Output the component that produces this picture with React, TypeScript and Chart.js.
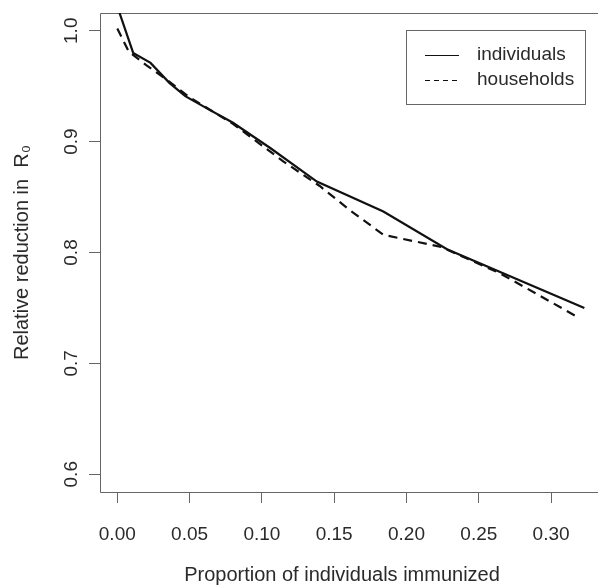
import React, { useEffect, useRef } from "react";
import { Chart, registerables } from "chart.js";

Chart.register(...registerables);

// ---- data ----
const individualsX = [0, 0.011, 0.023, 0.036, 0.047, 0.062, 0.08, 0.106, 0.138, 0.184, 0.228, 0.323];
const individualsY = [1.022, 0.98, 0.971, 0.953, 0.941, 0.93, 0.917, 0.894, 0.864, 0.837, 0.803, 0.75];

const householdsX = [0, 0.008, 0.02, 0.035, 0.05, 0.08, 0.115, 0.14, 0.161, 0.184, 0.224, 0.265, 0.318];
const householdsY = [1.002, 0.981, 0.969, 0.955, 0.94, 0.916, 0.882, 0.86, 0.838, 0.816, 0.805, 0.781, 0.742];

const seriesLabels = ["individuals", "households"];
const xTickValues = [0, 0.05, 0.1, 0.15, 0.2, 0.25, 0.3];
const yTickValues = [0.6, 0.7, 0.8, 0.9, 1.0];
const xTitle = "Proportion of individuals immunized";
const yTitle = "Relative reduction in  R\u2080";

const FONT = '"Liberation Sans", Arial, Helvetica, sans-serif';
const TEXT = "#2a2a2a";
const FRAME = "#666";
const LINE = "#111";

const toPoints = (xs: number[], ys: number[]) => xs.map((x, i) => ({ x, y: ys[i] }));

const decorPlugin = {
  id: "rDecor",
  beforeDatasetsDraw(chart: any) {
    const { ctx, chartArea } = chart;
    ctx.save();
    ctx.strokeStyle = FRAME;
    ctx.lineWidth = 1;
    ctx.beginPath();
    ctx.moveTo(chart.width, Math.round(chartArea.top) + 0.5);
    ctx.lineTo(Math.round(chartArea.left) + 0.5, Math.round(chartArea.top) + 0.5);
    ctx.lineTo(Math.round(chartArea.left) + 0.5, Math.round(chartArea.bottom) + 0.5);
    ctx.lineTo(chart.width, Math.round(chartArea.bottom) + 0.5);
    ctx.stroke();
    ctx.restore();
  },
  afterDraw(chart: any) {
    const { ctx } = chart;
    const ys = chart.scales.y;
    // rotated y tick labels (R style)
    ctx.save();
    ctx.fillStyle = TEXT;
    ctx.font = `19px ${FONT}`;
    ys.ticks.forEach((t: any) => {
      const py = ys.getPixelForValue(t.value);
      ctx.save();
      ctx.translate(72, py);
      ctx.rotate(-Math.PI / 2);
      ctx.textAlign = "center";
      ctx.textBaseline = "middle";
      ctx.fillText(Number(t.value).toFixed(1), 0, 0);
      ctx.restore();
    });
    ctx.restore();

    // legend box
    const lx = 406, ly = 30, lw = 179, lh = 74;
    ctx.save();
    ctx.strokeStyle = FRAME;
    ctx.lineWidth = 1;
    ctx.strokeRect(lx + 0.5, ly + 0.5, lw, lh);
    ctx.font = `19px ${FONT}`;
    ctx.fillStyle = TEXT;
    ctx.textBaseline = "middle";
    ctx.textAlign = "left";
    chart.data.datasets.forEach((ds: any, i: number) => {
      const cy = ly + 25 + i * 25;
      ctx.save();
      ctx.strokeStyle = LINE;
      ctx.lineWidth = 1.2;
      ctx.setLineDash(ds.borderDash && ds.borderDash.length ? [5, 4] : []);
      ctx.beginPath();
      ctx.moveTo(425, cy + 0.5);
      ctx.lineTo(459, cy + 0.5);
      ctx.stroke();
      ctx.restore();
      ctx.fillText(ds.label, 477, cy);
    });
    ctx.restore();
  },
};

export default function App() {
  const canvasRef = useRef<HTMLCanvasElement | null>(null);

  useEffect(() => {
    if (!canvasRef.current) return;
    const chart = new Chart(canvasRef.current, {
      type: "line",
      data: {
        datasets: [
          {
            label: seriesLabels[0],
            data: toPoints(individualsX, individualsY),
            borderColor: LINE,
            borderWidth: 2.2,
            pointRadius: 0,
            tension: 0,
            fill: false,
            clip: { left: 0, top: 0, right: 20, bottom: 0 } as any,
          },
          {
            label: seriesLabels[1],
            data: toPoints(householdsX, householdsY),
            borderColor: LINE,
            borderWidth: 2.2,
            borderDash: [9, 6],
            pointRadius: 0,
            tension: 0,
            fill: false,
            clip: { left: 0, top: 0, right: 20, bottom: 0 } as any,
          },
        ],
      },
      options: {
        responsive: false,
        animation: false,
        devicePixelRatio: 1,
        layout: { padding: { left: 0, top: 13, right: 14, bottom: 0 } },
        plugins: {
          legend: { display: false },
          tooltip: { enabled: false },
          title: { display: false },
        },
        scales: {
          x: {
            type: "linear",
            min: -0.01196,
            max: 0.32275,
            afterBuildTicks: (s: any) => {
              s.ticks = xTickValues.map((v) => ({ value: v }));
            },
            afterFit: (s: any) => {
              s.height = 95;
            },
            border: { display: false },
            grid: {
              drawOnChartArea: false,
              drawTicks: true,
              tickLength: 11,
              color: FRAME,
              lineWidth: 1,
            },
            ticks: {
              padding: 20,
              color: TEXT,
              font: { family: FONT, size: 19 },
              maxRotation: 0,
              minRotation: 0,
              callback: (v: any) => Number(v).toFixed(2),
            },
            title: {
              display: true,
              text: xTitle,
              color: TEXT,
              font: { family: FONT, size: 20 },
              padding: { top: 0, bottom: 0 },
            },
          },
          y: {
            type: "linear",
            min: 0.584,
            max: 1.016,
            afterBuildTicks: (s: any) => {
              s.ticks = yTickValues.map((v) => ({ value: v }));
            },
            afterFit: (s: any) => {
              s.width = 100;
            },
            border: { display: false },
            grid: {
              drawOnChartArea: false,
              drawTicks: true,
              tickLength: 11,
              color: FRAME,
              lineWidth: 1,
            },
            ticks: { display: false },
            title: {
              display: true,
              text: yTitle,
              color: TEXT,
              font: { family: FONT, size: 20 },
              padding: { top: 10, bottom: 0 },
            },
          },
        },
      },
      plugins: [decorPlugin],
    });
    return () => chart.destroy();
  }, []);

  return (
    <div
      style={{
        position: "absolute",
        left: 0,
        top: 0,
        width: 598,
        height: 587,
        overflow: "hidden",
        background: "#fff",
      }}
    >
      <canvas ref={canvasRef} width={598} height={587} style={{ display: "block" }} />
    </div>
  );
}
